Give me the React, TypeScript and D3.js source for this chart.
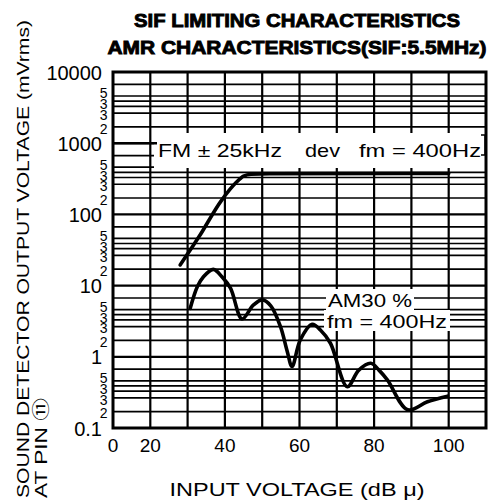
import React from "react";
import * as d3 from "d3";

// ---- data ----
const xDomain = [10, 110];
const yDomain = [0.1, 10000];
const xGridValues = [20, 30, 40, 50, 60, 70, 80, 90, 100];
const xTickValues = [10, 20, 40, 60, 80, 100];
const xTickLabels = ["0", "20", "40", "60", "80", "100"];
const yDecadeValues = [0.1, 1, 10, 100, 1000, 10000];
const yDecadeLabels = ["0.1", "1", "10", "100", "1000", "10000"];
const yMinorGridMults = [6.7, 4.6, 3.9, 3.3, 2.65, 1.7];
const yMinorLabelMults = [5.0, 3.5, 2.5, 1.6];
const yMinorLabels = ["5", "3", "3", "2"];

const fmInput = [28, 33, 39, 43, 45, 47, 52, 100];
const fmOutput = [19.5, 48, 155, 280, 345, 366, 372, 375];

const amInput = [30.7, 32.6, 34.2, 36.9, 39.2, 41.5, 44.6, 47.6, 50, 52.3, 54.9, 56.7, 58, 60.2, 63.4, 65.6, 68.3, 72.8, 75.9, 79.1, 81.3, 83.6, 89, 94.3, 99.7];
const amOutput = [4.8, 9.6, 13.2, 16.9, 13.3, 9.2, 3.4, 5.3, 6.3, 5.2, 2.65, 1.2, 0.73, 1.72, 2.86, 2.38, 1.55, 0.38, 0.65, 0.81, 0.65, 0.47, 0.18, 0.234, 0.28];

const titleLines = ["SIF LIMITING CHARACTERISTICS", "AMR CHARACTERISTICS(SIF:5.5MHz)"];
const yTitle1 = "SOUND DETECTOR OUTPUT VOLTAGE (mVrms)";
const yTitle2 = "AT PIN \u246A";
const xTitle = "INPUT VOLTAGE (dB \u03bc)";

const FONT = "'Liberation Sans', Arial, Helvetica, sans-serif";

export default function App() {
  const L = 113, R = 486, T = 72, B = 428;
  const x = d3.scaleLinear().domain(xDomain).range([L, R]);
  const y = d3.scaleLog().domain(yDomain).range([B, T]);

  const minorLines: number[] = [];
  yDecadeValues.slice(0, -1).forEach((d) => yMinorGridMults.forEach((m) => minorLines.push(d * m)));
  const minorLabelPos: { v: number; t: string }[] = [];
  yDecadeValues.slice(0, -1).forEach((d) =>
    yMinorLabelMults.forEach((m, i) => minorLabelPos.push({ v: d * m, t: yMinorLabels[i] }))
  );

  const fmLine = d3
    .line<number>()
    .x((_, i) => x(fmInput[i]))
    .y((d) => y(d))
    .curve(d3.curveMonotoneX)(fmOutput) as string;
  const amLine = d3
    .line<number>()
    .x((_, i) => x(amInput[i]))
    .y((d) => y(d))
    .curve(d3.curveCatmullRom.alpha(0.5))(amOutput) as string;

  return (
    <svg
      width={491}
      height={504}
      style={{ position: "absolute", left: 0, top: 0, background: "#fff" }}
      fontFamily={FONT}
    >
      <rect x={0} y={0} width={491} height={504} fill="#fff" />
      {/* title */}
      <text x={297} y={27} textAnchor="middle" fontSize={19} fontWeight="bold" stroke="#000" strokeWidth={0.9} textLength={326} lengthAdjust="spacingAndGlyphs">
        {titleLines[0]}
      </text>
      <text x={297} y={54} textAnchor="middle" fontSize={19} fontWeight="bold" stroke="#000" strokeWidth={0.9} textLength={379} lengthAdjust="spacingAndGlyphs">
        {titleLines[1]}
      </text>

      {/* horizontal grid */}
      {minorLines.map((v, i) => (
        <line key={"m" + i} x1={L} x2={R} y1={y(v)} y2={y(v)} stroke="#000" strokeWidth={1.7} />
      ))}
      {yDecadeValues.slice(1, -1).map((v, i) => (
        <line key={"d" + i} x1={L} x2={R} y1={y(v)} y2={y(v)} stroke="#000" strokeWidth={2.2} />
      ))}
      {/* vertical grid */}
      {xGridValues.map((v, i) => (
        <line key={"v" + i} x1={x(v)} x2={x(v)} y1={T} y2={B} stroke="#000" strokeWidth={2.2} />
      ))}

      {/* annotation boxes */}
      <rect x={154} y={133} width={331} height={35} fill="#fff" />
      <rect x={326} y={289} width={88} height={21} fill="#fff" />
      <rect x={324} y={310} width={126} height={21} fill="#fff" />

      <line x1={L} x2={157} y1={y(1000)} y2={y(1000)} stroke="#000" strokeWidth={2.5} />
      <text x={158} y={157} fontSize={19} textLength={124} lengthAdjust="spacingAndGlyphs">FM ± 25kHz</text>
      <text x={305} y={157} fontSize={19} textLength={35} lengthAdjust="spacingAndGlyphs">dev</text>
      <text x={359} y={157} fontSize={19} textLength={122} lengthAdjust="spacingAndGlyphs">fm = 400Hz</text>
      <path d={`M481,${135}h4v20h-4`} fill="none" stroke="#000" strokeWidth={1.5} />

      <text x={328} y={307} fontSize={19} textLength={84} lengthAdjust="spacingAndGlyphs">AM30 %</text>
      <text x={327} y={328} fontSize={19} textLength={120} lengthAdjust="spacingAndGlyphs">fm = 400Hz</text>

      {/* curves */}
      <path d={fmLine} fill="none" stroke="#000" strokeWidth={3.6} strokeLinejoin="round" strokeLinecap="round" />
      <path d={amLine} fill="none" stroke="#000" strokeWidth={3.6} strokeLinejoin="round" strokeLinecap="round" />

      {/* frame */}
      <rect x={L} y={T} width={R - L} height={B - T} fill="none" stroke="#000" strokeWidth={3} />

      {/* y tick labels */}
      {yDecadeValues.map((v, i) => (
        <text key={"yl" + i} x={102} y={y(v) + 7.5} textAnchor="end" fontSize={20}>
          {yDecadeLabels[i]}
        </text>
      ))}
      {minorLabelPos.map((p, i) => (
        <text key={"yml" + i} x={107.5} y={y(p.v) + 5} textAnchor="end" fontSize={14}>
          {p.t}
        </text>
      ))}

      {/* x tick labels */}
      {xTickValues.map((v, i) => (
        <text key={"xl" + i} x={x(v)} y={452} textAnchor="middle" fontSize={19}>
          {xTickLabels[i]}
        </text>
      ))}

      {/* axis titles */}
      <text x={297} y={496} textAnchor="middle" fontSize={18} textLength={255} lengthAdjust="spacingAndGlyphs">
        {xTitle}
      </text>
      <text transform="translate(29,498) rotate(-90)" fontSize={17} textLength={478} lengthAdjust="spacingAndGlyphs">
        {yTitle1}
      </text>
      <text transform="translate(47,498) rotate(-90)" fontSize={17} textLength={100} lengthAdjust="spacingAndGlyphs" fontFamily={`${FONT}, 'DejaVu Sans', 'Noto Sans CJK JP'`}>
        {yTitle2}
      </text>
    </svg>
  );
}
